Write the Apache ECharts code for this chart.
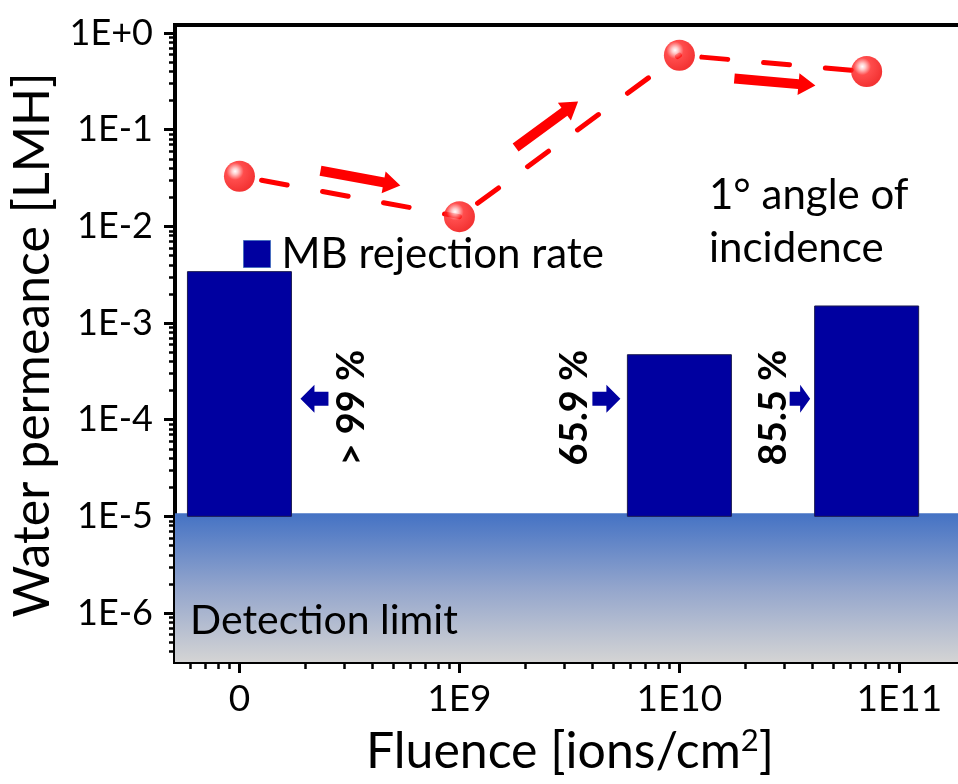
<!DOCTYPE html>
<html><head><meta charset="utf-8">
<script src="https://cdn.jsdelivr.net/npm/echarts@6/dist/echarts.min.js"></script>
<style>html,body{margin:0;padding:0;background:#fff}#c{width:958px;height:784px}</style>
</head><body><div id="c"></div>
<script>
// ---------------- data ----------------
const fluenceTickValues = [1e8, 1e9, 1e10, 1e11];          // "0" is drawn at the 1E8 position
const fluenceTickLabels = ['0', '1E9', '1E10', '1E11'];
const permeanceTickValues = [1, 1e-1, 1e-2, 1e-3, 1e-4, 1e-5, 1e-6];
const permeanceTickLabels = ['1E+0', '1E-1', '1E-2', '1E-3', '1E-4', '1E-5', '1E-6'];
const waterFluence = [1e8, 1e9, 1e10, 7.1e10];
const waterPermeance = [0.033, 0.0126, 0.59, 0.40];
const mbFluence = [1e8, 1e10, 7.1e10];
const mbPermeance = [3.4e-3, 4.7e-4, 1.5e-3];
const mbRejection = ['> 99 %', '65.9 %', '85.5 %'];
const detectionLimit = 1e-5;
const rejectionMarkLevel = 1.65e-4;

// ---------------- helpers ----------------
const lg = Math.log10;
const X_MIN = 7.707, X_MAX = 11.312;
const Y_MIN = -6.507, Y_MAX = 0.083;
const FONT = 'Lato';

function minorTicks(lo, hi) {
  const out = [];
  for (let d = Math.floor(lo) - 1; d <= Math.ceil(hi); d++) {
    for (let k = 2; k <= 9; k++) {
      const v = d + lg(k);
      if (v > lo && v < hi) out.push(v);
    }
  }
  return out;
}
const xMajor = fluenceTickValues.map(lg);
const yMajor = permeanceTickValues.map(lg);
function labelOf(vals, labels, v) {
  for (let i = 0; i < vals.length; i++) if (Math.abs(vals[i] - v) < 1e-6) return labels[i];
  return '';
}

const waterPoints = waterFluence.map((f, i) => [lg(f), lg(waterPermeance[i])]);
const waterSegments = [];
for (let i = 1; i < waterPoints.length; i++) {
  waterSegments.push([waterPoints[i - 1][0], waterPoints[i - 1][1], waterPoints[i][0], waterPoints[i][1]]);
}
const mbData = mbFluence.map((f, i) => [lg(f), lg(mbPermeance[i])]);

// style of annotation arrows (fractions along each segment, perpendicular offset in px)
const flowArrowStyle = [
  { from: 0.352, to: 0.715, offset: 20 },
  { from: 0.316, to: 0.600, offset: 22.5 },
  { from: 0.302, to: 0.735, offset: -18.5 }
];
// blue marker arrows next to bars
const barMarkStyle = [
  { side: 'right', gap: 9, shaft: 14, head: 14, labelGap: 23 },
  { side: 'left', gap: 7, shaft: 14, head: 14, labelGap: 18 },
  { side: 'left', gap: 4.5, shaft: 10.5, head: 10, labelGap: 16 }
];

const RED = '#ff0000';
const NAVY = '#0000a0';

const chart = echarts.init(document.getElementById('c'), null, { renderer: 'canvas' });

const option = {
  animation: false,
  backgroundColor: '#ffffff',
  grid: { left: 175, top: 25, right: -10, bottom: 122, show: true, borderColor: '#000', borderWidth: 4,
          backgroundColor: 'transparent', outerBoundsMode: 'none', containLabel: false },
  legend: {
    data: [{ name: 'MB rejection rate', icon: 'rect', itemStyle: { color: NAVY, borderColor: '#4a6fc0', borderWidth: 1 } }],
    left: 243, top: 233, itemWidth: 27, itemHeight: 27, padding: 0,
    textStyle: { fontSize: 42, fontFamily: FONT, color: '#000', padding: [0, 0, 0, 6] },
    selectedMode: false
  },
  xAxis: [
    {
      type: 'value', min: X_MIN, max: X_MAX, position: 'bottom',
      axisLine: { show: true, onZero: false, lineStyle: { color: '#000', width: 4 } },
      axisTick: { show: true, customValues: xMajor, length: 11, lineStyle: { color: '#000', width: 3 } },
      axisLabel: { customValues: xMajor, formatter: v => labelOf(xMajor, fluenceTickLabels, v), fontSize: 37, fontFamily: FONT, color: '#000', margin: 19 },
      splitLine: { show: false }
    },
    {
      type: 'value', min: X_MIN, max: X_MAX, position: 'bottom',
      axisLine: { show: false, onZero: false },
      axisTick: { show: true, customValues: minorTicks(X_MIN, X_MAX), length: 7, lineStyle: { color: '#000', width: 2.5 } },
      axisLabel: { show: false },
      splitLine: { show: false }
    }
  ],
  yAxis: [
    {
      type: 'value', min: Y_MIN, max: Y_MAX, position: 'left',
      axisLine: { show: true, onZero: false, lineStyle: { color: '#000', width: 4 } },
      axisTick: { show: true, customValues: yMajor, length: 11, lineStyle: { color: '#000', width: 3 } },
      axisLabel: { customValues: yMajor, formatter: v => labelOf(yMajor, permeanceTickLabels, v), fontSize: 36, fontFamily: FONT, color: '#000', margin: 22 },
      splitLine: { show: false }
    },
    {
      type: 'value', min: Y_MIN, max: Y_MAX, position: 'left',
      axisLine: { show: false, onZero: false },
      axisTick: { show: true, customValues: minorTicks(Y_MIN, Y_MAX), length: 6, lineStyle: { color: '#000', width: 2.5 } },
      axisLabel: { show: false },
      splitLine: { show: false }
    }
  ],
  graphic: [
    { type: 'text', x: 33, y: 345, rotation: Math.PI / 2, z: 10,
      style: { text: 'Water permeance [LMH]', fontSize: 50, fontFamily: FONT, fill: '#000', align: 'center', verticalAlign: 'middle' } },
    { type: 'text', x: 570, y: 752, z: 10,
      style: { text: 'Fluence [ions/cm{sup|2}]', fontSize: 50, fontFamily: FONT, fill: '#000', align: 'center', verticalAlign: 'middle',
        rich: { sup: { fontSize: 31, fontFamily: FONT, fill: '#000', padding: [0, 0, 22, 0] } } } },
    { type: 'text', x: 190, y: 621, z: 10,
      style: { text: 'Detection limit', fontSize: 41, fontFamily: FONT, fill: '#000', align: 'left', verticalAlign: 'middle' } },
    { type: 'text', x: 709, y: 195, z: 10,
      style: { text: '1° angle of', fontSize: 42, fontFamily: FONT, fill: '#000', align: 'left', verticalAlign: 'middle' } },
    { type: 'text', x: 709, y: 248, z: 10,
      style: { text: 'incidence', fontSize: 42, fontFamily: FONT, fill: '#000', align: 'left', verticalAlign: 'middle' } }
  ],
  series: [
    {
      name: 'Detection limit', type: 'custom', z: 1, clip: true, silent: true,
      data: [[X_MIN, lg(detectionLimit)]],
      renderItem: function (params, api) {
        const a = api.coord([X_MIN, api.value(1)]);
        const b = api.coord([X_MAX, Y_MIN]);
        return {
          type: 'rect', shape: { x: a[0], y: a[1] - 3, width: b[0] - a[0], height: b[1] - a[1] + 3 },
          style: { fill: new echarts.graphic.LinearGradient(0, 0, 0, 1, [
            { offset: 0, color: '#4472c4' }, { offset: 0.5, color: '#93a5cc' }, { offset: 1, color: '#d4d4d4' }]) }
        };
      }
    },
    {
      name: 'MB rejection rate', type: 'custom', z: 2, clip: true,
      itemStyle: { color: NAVY },
      data: mbData,
      renderItem: function (params, api) {
        const i = params.dataIndex;
        const top = api.coord([api.value(0), api.value(1)]);
        const base = api.coord([api.value(0), lg(detectionLimit)]);
        const w = 104;
        const left = top[0] - w / 2, right = top[0] + w / 2;
        const ay = api.coord([api.value(0), lg(rejectionMarkLevel)])[1];
        const s = barMarkStyle[i];
        const dir = s.side === 'right' ? 1 : -1;         // direction away from bar
        const edge = s.side === 'right' ? right : left;
        const tip = edge + dir * s.gap;
        const hb = tip + dir * s.head;
        const tail = hb + dir * s.shaft;
        const hh = 14, sh = 7;
        const pts = [[tip, ay], [hb, ay - hh], [hb, ay - sh], [tail, ay - sh], [tail, ay + sh], [hb, ay + sh], [hb, ay + hh]];
        const lx = tail + dir * s.labelGap;
        return {
          type: 'group', children: [
            { type: 'rect', shape: { x: left, y: top[1], width: w, height: base[1] - top[1] },
              style: { fill: NAVY, stroke: '#1b1b50', lineWidth: 1 } },
            { type: 'polygon', shape: { points: pts }, style: { fill: NAVY } },
            { type: 'text', x: lx, y: ay + 9, rotation: Math.PI / 2,
              style: { text: mbRejection[i], fontSize: 38, fontWeight: 'bold', fontFamily: FONT, fill: '#000', align: 'center', verticalAlign: 'middle' } }
          ]
        };
      }
    },
    {
      name: 'Water permeance line', type: 'custom', z: 3, clip: false, silent: true,
      data: waterSegments,
      encode: { x: [0, 2], y: [1, 3] },
      renderItem: function (params, api) {
        const p0 = api.coord([api.value(0), api.value(1)]);
        const p1 = api.coord([api.value(2), api.value(3)]);
        const dx = p1[0] - p0[0], dy = p1[1] - p0[1], L = Math.hypot(dx, dy);
        const ux = dx / L, uy = dy / L, nx = uy, ny = -ux;
        const s = flowArrowStyle[params.dataIndex];
        const ta = [p0[0] + ux * L * s.from + nx * s.offset, p0[1] + uy * L * s.from + ny * s.offset];
        const tb = [p0[0] + ux * L * s.to + nx * s.offset, p0[1] + uy * L * s.to + ny * s.offset];
        const hl = 17, hw = 11, sw = 5;
        const hb = [tb[0] - ux * hl, tb[1] - uy * hl];
        const pts = [
          [ta[0] + nx * sw, ta[1] + ny * sw], [hb[0] + nx * sw, hb[1] + ny * sw], [hb[0] + nx * hw, hb[1] + ny * hw],
          tb, [hb[0] - nx * hw, hb[1] - ny * hw], [hb[0] - nx * sw, hb[1] - ny * sw], [ta[0] - nx * sw, ta[1] - ny * sw]
        ];
        return {
          type: 'group', children: [
            { type: 'line', shape: { x1: p0[0], y1: p0[1], x2: p1[0], y2: p1[1] },
              style: { stroke: RED, lineWidth: 5, lineDash: [26, 36], lineDashOffset: 39.5, lineCap: 'round' } },
            { type: 'polygon', shape: { points: pts }, style: { fill: RED } }
          ]
        };
      }
    },
    {
      name: 'Water permeance', type: 'scatter', z: 4, symbol: 'circle', symbolSize: 31,
      data: waterPoints,
      itemStyle: {
        color: { type: 'radial', x: 0.36, y: 0.34, r: 0.66, colorStops: [
          { offset: 0, color: '#ffffff' }, { offset: 0.15, color: '#ffc0c0' }, { offset: 0.42, color: '#ff2020' }, { offset: 1, color: '#f00000' }] }
      }
    }
  ]
};
chart.setOption(option);
</script>
</body></html>
